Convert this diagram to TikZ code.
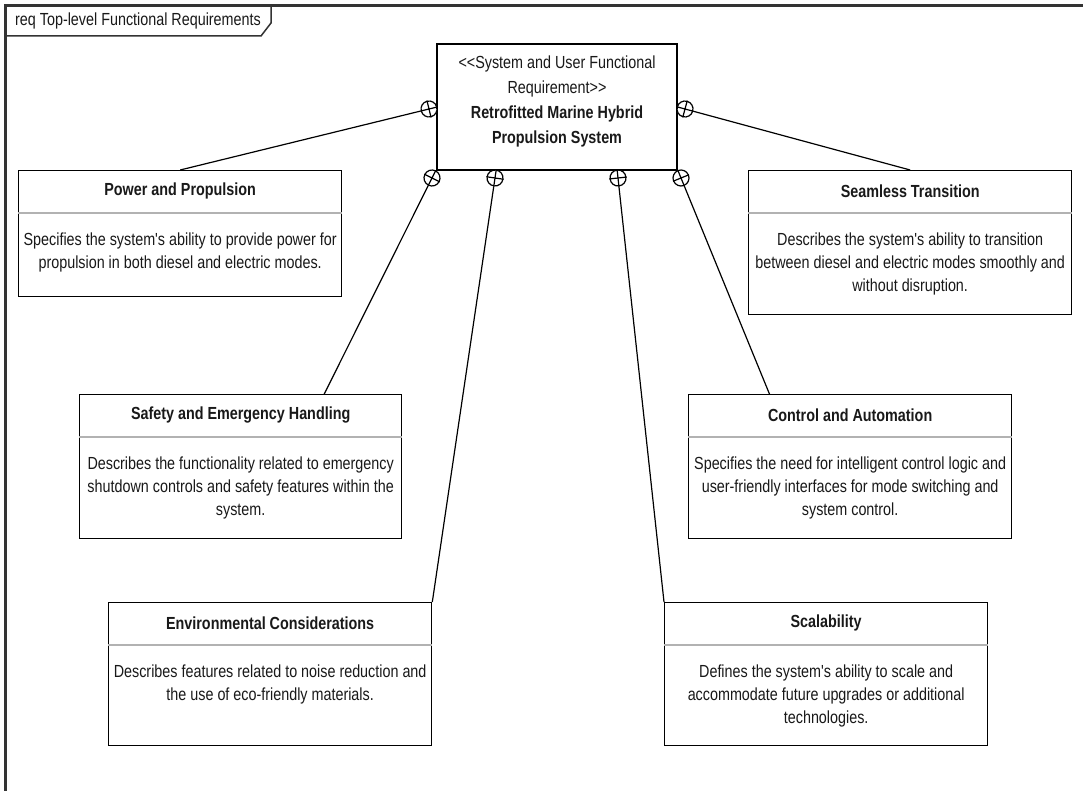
\documentclass[tikz,border=0pt]{standalone}
\usepackage{fontspec}
\setmainfont{Liberation Sans}[FakeStretch=0.82, Ligatures=TeXOff]
\usepackage{tikz}

% one requirement box: name, x, y (north west), width, height, title, text
\newcommand{\reqbox}[7]{%
    \node[reqframe, minimum width=#4pt, minimum height=#5pt, anchor=north west] (#1) at (#2,#3) {};
    \draw[divider] ([yshift=-43pt]#1.north west) -- ([yshift=-43pt]#1.north east);
    \node[reqtitle] at ([yshift=-21pt]#1.north) {#6};
    \node[reqtext, anchor=north] at ([yshift=-62pt]#1.north) {#7};
}

\begin{document}
\begin{tikzpicture}[
    x = 1pt, y = -1pt, % pixel grid of the diagram
    line width = 1.2pt, % line style
    font = \fontsize{17.5}{23}\selectfont
    ]

    \tikzset{
    reqframe/.style = {draw = black, line width = 1.3pt, fill = white, inner sep = 0pt},
    divider/.style = {draw = black!30, line width = 1.3pt},
    reqtitle/.style = {font = \fontsize{17.5}{23}\selectfont\bfseries, text = black!90},
    reqtext/.style = {align = center, inner sep = 0pt, text = black!90},
    contain/.style = {circle, draw = black, line width = 1.2pt, fill = white, minimum size = 16pt, inner sep = 0pt}
    }
    \useasboundingbox (0,0) rectangle (1083,791);

    % diagram frame
    \draw[black!80, line width = 3pt] (5,791) -- (5,6) -- (1083,6);
    \draw[black!80, line width = 1.5pt] (5,36) -- (261,36) -- (271,23) -- (271,6);
    \node[text = black!90] (frame) at (138,21) {req Top-level Functional Requirements};

    % top-level requirement
    \node[reqframe, minimum width = 240pt, minimum height = 126pt] (sys) at (557,107) {};
    \node[align = center, text = black!90, font = \fontsize{17.5}{25}\selectfont] (syslabel) at (557,101)
        {<<System and User Functional\\Requirement>>\\\textbf{Retrofitted Marine Hybrid}\\\textbf{Propulsion System}};

    \reqbox{pp}{18}{170}{323}{126}{Power and Propulsion}
        {Specifies the system's ability to provide power for\\propulsion in both diesel and electric modes.}
    \reqbox{st}{748}{170}{323}{144}{Seamless Transition}
        {Describes the system's ability to transition\\between diesel and electric modes smoothly and\\without disruption.}
    \reqbox{se}{79}{394}{322}{144}{Safety and Emergency Handling}
        {Describes the functionality related to emergency\\shutdown controls and safety features within the\\system.}
    \reqbox{ca}{688}{394}{323}{144}{Control and Automation}
        {Specifies the need for intelligent control logic and\\user-friendly interfaces for mode switching and\\system control.}
    \reqbox{ec}{108}{602}{323}{143}{Environmental Considerations}
        {Describes features related to noise reduction and\\the use of eco-friendly materials.}
    \reqbox{sc}{664}{602}{323}{143}{Scalability}
        {Defines the system's ability to scale and\\accommodate future upgrades or additional\\technologies.}

    % containment links
    \foreach \h/\x/\y/\e in {h1/429/109/pp.north, h2/685/109/st.north, h3/432/178/se.41,
        h4/495/178/ec.north east, h5/618/178/sc.north west, h6/681/178/ca.138} {
        \path (\x,\y) -- (\e) node[contain, pos = 0, sloped] (\h) {};
        \draw (\h.north) -- (\h.south) (\h.east) -- (\h.west);
        \draw (\h) -- (\e);
    }
\end{tikzpicture}
\end{document}
